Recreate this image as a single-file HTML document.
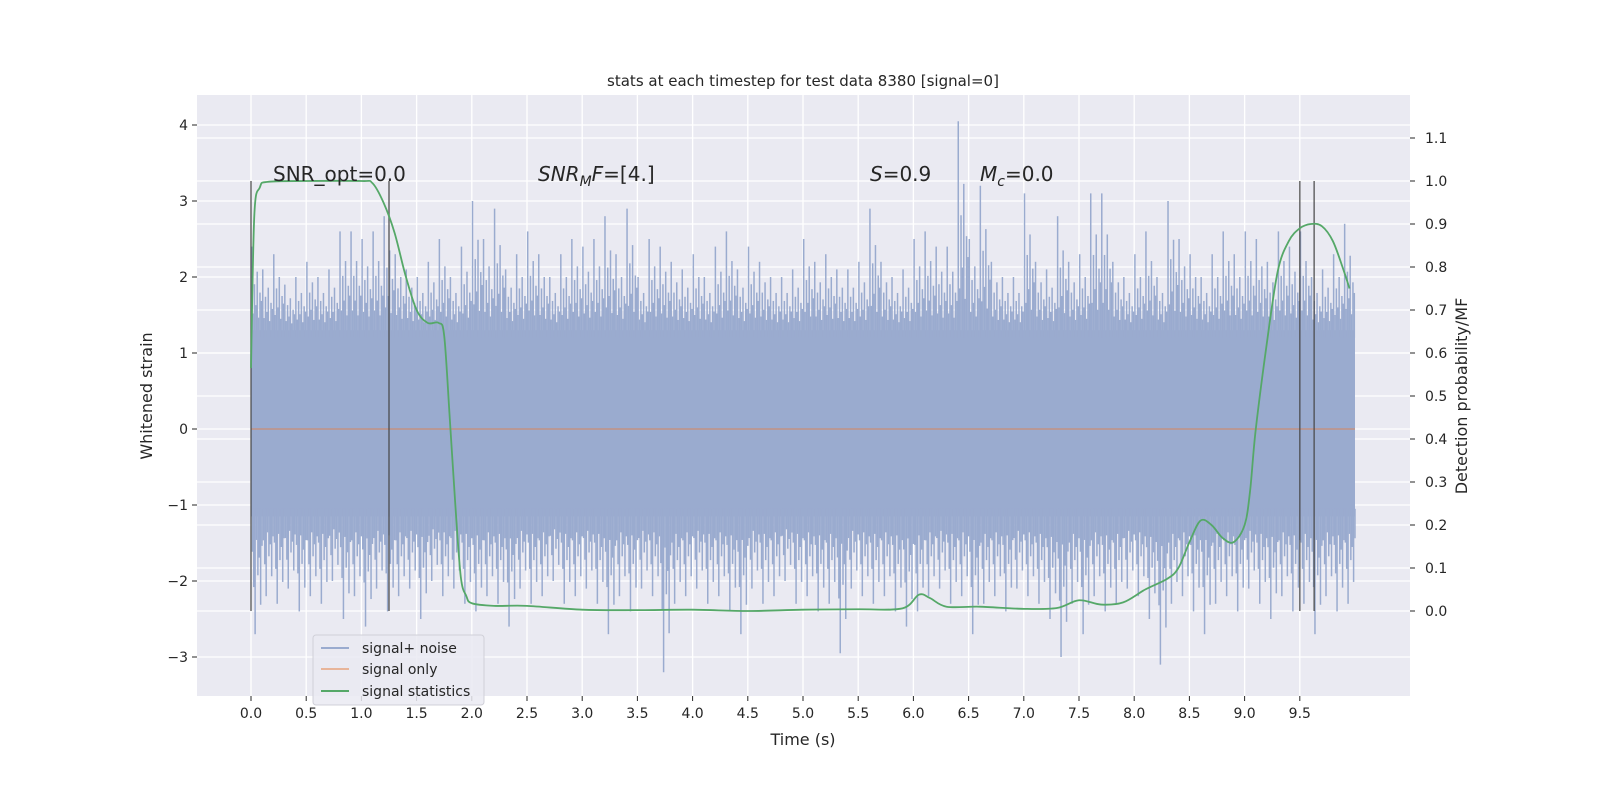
<!DOCTYPE html>
<html><head><meta charset="utf-8"><style>
body{margin:0;background:#fff;font-family:"Liberation Sans","DejaVu Sans",sans-serif}
svg text{font-family:"DejaVu Sans","Liberation Sans",sans-serif;fill:#262626}
</style></head><body>
<svg id="c" width="1600" height="800">
<text x="803" y="86" font-size="15" text-anchor="middle">stats at each timestep for test data 8380 [signal=0]</text>
</svg>
<script>
const topSpikes=[2.4,2.1,2.3,1.9,2.0,2.2,2.0,2.1,2.6,2.6,2.5,2.6,2.8,2.3,2.1,2.0,2.2,2.5,2.0,2.4,3.0,2.5,2.9,2.1,2.3,2.6,2.3,2.0,2.3,2.5,2.4,2.5,2.8,2.3,2.9,2.0,2.5,2.4,2.2,2.1,2.3,2.0,2.4,2.6,2.1,2.4,2.2,2.0,2.0,2.1,2.5,2.2,2.3,2.1,2.1,2.2,2.9,2.2,2.0,2.1,2.5,2.6,2.4,2.4,4.05,2.5,3.2,2.2,2.0,2.0,3.1,2.2,2.1,2.8,2.2,2.3,3.1,3.1,2.2,2.0,2.3,2.6,2.0,3.0,2.5,2.3,2.0,2.3,2.6,2.3,2.6,2.5,2.2,2.6,2.4,2.6,2.0,2.1,2.3,2.7];
const botSpikes=[-2.7,-2.2,-2.3,-2.1,-2.4,-2.2,-2.3,-2.0,-2.5,-2.2,-2.6,-2.1,-2.4,-2.2,-2.1,-2.5,-2.0,-2.2,-2.1,-2.3,-2.4,-2.2,-2.3,-2.6,-2.1,-2.3,-2.2,-2.0,-2.3,-2.2,-2.1,-2.3,-2.7,-2.2,-2.4,-2.1,-2.2,-3.2,-2.3,-2.2,-2.1,-2.3,-2.2,-2.4,-2.7,-2.1,-2.3,-2.2,-2.0,-2.3,-2.2,-2.4,-2.3,-2.95,-2.1,-2.2,-2.3,-2.2,-2.4,-2.6,-2.4,-2.2,-2.1,-2.3,-2.2,-2.7,-2.3,-2.2,-2.4,-2.1,-2.2,-2.3,-2.5,-3.0,-2.3,-2.7,-2.2,-2.4,-2.3,-2.1,-2.2,-2.5,-3.1,-2.3,-2.2,-2.4,-2.7,-2.3,-2.2,-2.4,-2.1,-2.3,-2.5,-2.2,-2.4,-2.3,-2.7,-2.2,-2.4,-2.3];
const statT=[0,0.03,0.08,0.15,0.5,1.0,1.1,1.2,1.3,1.4,1.5,1.6,1.7,1.75,1.8,1.85,1.9,1.95,2.0,2.2,2.5,3.0,3.5,4.0,4.5,5.0,5.5,5.9,6.05,6.15,6.3,6.6,7.0,7.3,7.5,7.7,7.9,8.1,8.3,8.4,8.5,8.6,8.7,8.8,8.9,9.0,9.05,9.1,9.2,9.3,9.4,9.5,9.6,9.7,9.8,9.9,9.95];
const statV=[0.565,0.92,0.985,0.998,1.0,1.0,0.995,0.95,0.88,0.78,0.70,0.67,0.67,0.64,0.45,0.25,0.08,0.035,0.018,0.012,0.012,0.003,0.002,0.003,0.0,0.003,0.004,0.006,0.038,0.03,0.01,0.01,0.005,0.007,0.025,0.015,0.02,0.05,0.075,0.1,0.16,0.21,0.2,0.17,0.16,0.2,0.28,0.42,0.62,0.79,0.86,0.89,0.9,0.895,0.86,0.79,0.75];
const markers=[0,1.25,9.5,9.63];
const xTicks=[0,0.5,1,1.5,2,2.5,3,3.5,4,4.5,5,5.5,6,6.5,7,7.5,8,8.5,9,9.5];
const yTicks=[-3,-2,-1,0,1,2,3,4];
const rTicks=[0,0.1,0.2,0.3,0.4,0.5,0.6,0.7,0.8,0.9,1.0,1.1];
const X=t=>251+t*110.4, Y=v=>429-v*76, R=v=>611-v*430;
const L=197,Rr=1410,T=95,B=696;
const s=document.getElementById('c');const NS='http://www.w3.org/2000/svg';
function el(tag,a,p){const e=document.createElementNS(NS,tag);for(const k in a)e.setAttribute(k,a[k]);(p||s).appendChild(e);return e;}
const bg=el('rect',{x:L,y:T,width:Rr-L,height:B-T,fill:'#eaeaf2'});


const g=el('g',{stroke:'#fff','stroke-width':1.3});


xTicks.forEach(t=>el('line',{x1:X(t),x2:X(t),y1:T,y2:B},g));
yTicks.forEach(v=>el('line',{x1:L,x2:Rr,y1:Y(v),y2:Y(v)},g));
rTicks.forEach(v=>el('line',{x1:L,x2:Rr,y1:R(v),y2:R(v)},g));
const ng=el('g',{});


const core=el('rect',{x:X(0),y:Y(1.3),width:X(10)-X(0),height:Y(-1.15)-Y(1.3),fill:'#9aabcf'},ng);


const upM=[1,0.2,0.55,0.3,0.7,0.15,0.45,0.35];
const dnM=[0.3,0.6,1,0.2,0.5,0.35,0.75,0.25];
topSpikes.forEach((v,i)=>{
 for(let k=0;k<8;k++){const t=i*0.1+k*0.0125;const vv=1.3+(v-1.3)*upM[k];
 const ln=el('line',{x1:X(t)+0.7,x2:X(t)+0.7,y1:Y(1.2),y2:Y(vv),stroke:'#9aabcf','stroke-width':1.5},ng);
 
 }
});
botSpikes.forEach((v,i)=>{
 for(let k=0;k<8;k++){const t=i*0.1+0.006+k*0.0125;const vv=-1.15+(v+1.15)*dnM[k];
 const ln=el('line',{x1:X(t)+0.7,x2:X(t)+0.7,y1:Y(-1.05),y2:Y(vv),stroke:'#9aabcf','stroke-width':1.5},ng);
 
 }
});
const so=el('line',{x1:X(0),x2:X(10),y1:Y(0),y2:Y(0),stroke:'#dd8452','stroke-opacity':0.6,'stroke-width':1.5});


markers.forEach(t=>{const m=el('line',{x1:X(t),x2:X(t),y1:R(1.0),y2:R(0),stroke:'#444','stroke-opacity':0.75,'stroke-width':1.6});

});
const P=statT.map((t,i)=>[X(t),R(statV[i])]);
let d='M'+P[0][0]+','+P[0][1];
for(let i=0;i<P.length-1;i++){const p0=P[Math.max(0,i-1)],p1=P[i],p2=P[i+1],p3=P[Math.min(P.length-1,i+2)];
 d+=' C'+(p1[0]+(p2[0]-p0[0])/6)+','+(p1[1]+(p2[1]-p0[1])/6)+' '+(p2[0]-(p3[0]-p1[0])/6)+','+(p2[1]-(p3[1]-p1[1])/6)+' '+p2[0]+','+p2[1];}
const st=el('path',{d:d,fill:'none',stroke:'#55a868','stroke-width':1.8});


xTicks.forEach(t=>{el('line',{x1:X(t),x2:X(t),y1:B,y2:B+5,stroke:'#262626'});
const tx=el('text',{x:X(t),y:B+22,'font-size':14,'text-anchor':'middle'});tx.textContent=t.toFixed(1);

});
yTicks.forEach(v=>{el('line',{x1:L-5,x2:L,y1:Y(v),y2:Y(v),stroke:'#262626'});
const tx=el('text',{x:L-9,y:Y(v)+5,'font-size':14,'text-anchor':'end'});tx.textContent=v<0?'\u2212'+(-v):v;

});
rTicks.forEach(v=>{el('line',{x1:Rr,x2:Rr+5,y1:R(v),y2:R(v),stroke:'#262626'});
const tx=el('text',{x:Rr+15,y:R(v)+5,'font-size':14});tx.textContent=v.toFixed(1);

});
const xl=el('text',{x:803,y:745,'font-size':16,'text-anchor':'middle'});xl.textContent='Time (s)';


const yl=el('text',{x:152,y:396,'font-size':16,'text-anchor':'middle',transform:'rotate(-90 152 396)'});yl.textContent='Whitened strain';


const rl=el('text',{x:1467,y:396,'font-size':16,'text-anchor':'middle',transform:'rotate(-90 1467 396)'});rl.textContent='Detection probability/MF';


</script>
<svg style="position:absolute;left:0;top:0" width="1600" height="800">
<g font-size="20" fill="#262626" font-family="DejaVu Sans, sans-serif">
<text x="273" y="181">SNR_opt=0.0</text>
<text x="538" y="181"><tspan font-style="italic">SNR</tspan><tspan font-style="italic" font-size="14" dy="5">M</tspan><tspan font-style="italic" dy="-5">F</tspan>=[4.]</text>
<text x="870" y="181"><tspan font-style="italic">S</tspan>=0.9</text>
<text x="980" y="181"><tspan font-style="italic">M</tspan><tspan font-style="italic" font-size="14" dy="5">c</tspan><tspan dy="-5">=0.0</tspan></text>
</g>
<g>
<rect x="313" y="635" width="171" height="70" rx="3" fill="#eaeaf2" fill-opacity="0.85" stroke="#d0d0d8"/>
<line x1="321" x2="349" y1="648" y2="648" stroke="#9aabcf" stroke-width="2"/>
<text x="362" y="653" font-size="14" fill="#262626">signal+ noise</text>
<line x1="321" x2="349" y1="669" y2="669" stroke="#e8b59a" stroke-width="2"/>
<text x="362" y="674" font-size="14" fill="#262626">signal only</text>
<line x1="321" x2="349" y1="691" y2="691" stroke="#55a868" stroke-width="2"/>
<text x="362" y="696" font-size="14" fill="#262626">signal statistics</text>
</g>
</svg>
</body></html>
